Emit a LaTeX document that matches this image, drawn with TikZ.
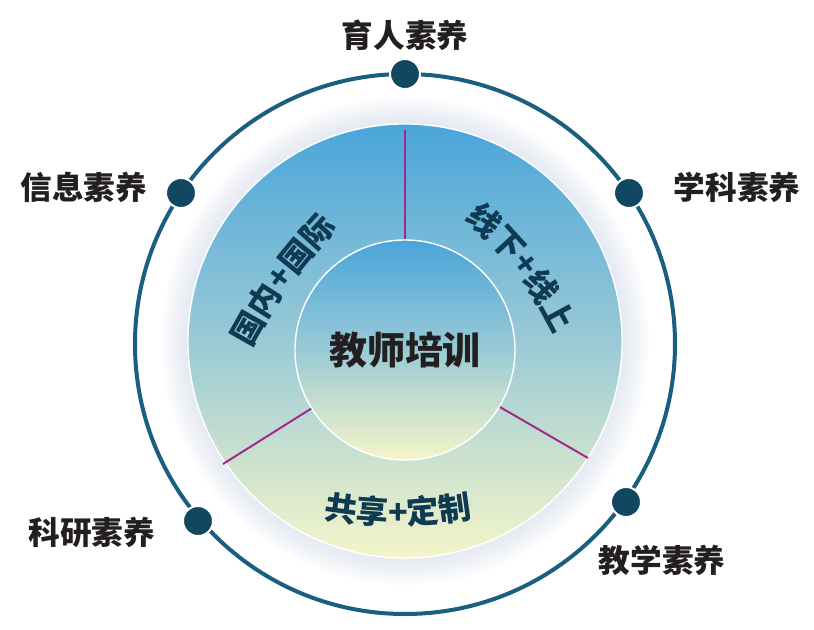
\documentclass[tikz,border=0pt]{standalone}
\usepackage{fontspec}
\usepackage{tikz}
\usetikzlibrary{decorations.text}
\newfontfamily\cjk{Noto Sans CJK SC}
\definecolor{ringblue}{HTML}{1A5E80}
\definecolor{dotblue}{HTML}{124761}
\definecolor{topblue}{HTML}{4AA5DA}
\definecolor{midteal}{HTML}{9ACAD6}
\definecolor{paleyellow}{HTML}{F5F5C9}
\definecolor{divider}{HTML}{9E2A8E}
\definecolor{inknavy}{HTML}{0E3A52}
\definecolor{inkgray}{HTML}{231F20}
\definecolor{haloblue}{HTML}{BCC6DC}
\newcommand{\arcfont}{\cjk\bfseries\fontsize{23}{26}\selectfont\color{inknavy}}

\begin{document}
\begin{tikzpicture}[
            x = 0.025cm, y = 0.025cm, % one unit per pixel
            disc/.style = {circle, draw=white, line width=1pt, inner sep=0pt,
                           top color=topblue, bottom color=paleyellow, middle color=midteal},
            dot/.style = {circle, fill=dotblue, draw=white, line width=1.4pt,
                          minimum size=0.75cm, inner sep=0pt},
            lbl/.style = {font=\cjk\bfseries\fontsize{22.5}{26}\selectfont, text=inkgray},
            halo/.style = {fill=haloblue, opacity=0.035},
            divline/.style = {draw=divider, line width=1.4pt},
            arc text/.style = {decorate, decoration={text along path,
                               text align=center, text={|\arcfont|#1}}}
        ]
\useasboundingbox (-405,-289) rectangle (409,341);

% soft glow round the disc
\foreach \r in {218,220,...,244}
    \fill[halo] (0,0) circle (\r);

\node[disc, minimum size=10.85cm] (mid) at (0,0) {};

\coordinate (topEnd) at (0,211);
\coordinate (leftEnd) at (-182,-123);
\coordinate (rightEnd) at (183,-117);

\node[disc, minimum size=5.5cm, font=\cjk\bfseries\fontsize{27}{30}\selectfont,
      text=inkgray] (core) at (0,-9) {教师培训};

\draw[divline] (core.90) -- (topEnd);
\draw[divline] (core.212) -- (leftEnd);
\draw[divline] (core.329) -- (rightEnd);

% curved texts
\coordinate (gjA) at (-160,-17);
\coordinate (gjB) at (-60,121);
\coordinate (xsA) at (51,130);
\coordinate (xsB) at (155,-4);
\coordinate (gxA) at (-92,-175);
\coordinate (gxB) at (78,-175);
\path[arc text={国内+国际}] (gjA) to[bend left=8] (gjB);
\path[arc text={线下+线上}] (xsA) to[bend left=12] (xsB);
\path[arc text={共享+定制}] (gxA) to[bend right=10] (gxB);

% outer ring
\draw[ringblue, line width=2.85pt] (0,-3) circle (270);

\node[dot] (dYuren) at (0,267) {};
\node[dot] (dXinxi) at (-224,148) {};
\node[dot] (dXueke) at (224,148) {};
\node[dot] (dJiaoxue) at (221,-161) {};
\node[dot] (dKeyan) at (-207,-180) {};

\node[lbl] (yuren) at (0,306) {育人素养};
\node[lbl] (xinxi) at (-321,154) {信息素养};
\node[lbl] (xueke) at (332,154) {学科素养};
\node[lbl] (keyan) at (-313,-191) {科研素养};
\node[lbl] (jiaoxue) at (257,-219) {教学素养};
\end{tikzpicture}
\end{document}
